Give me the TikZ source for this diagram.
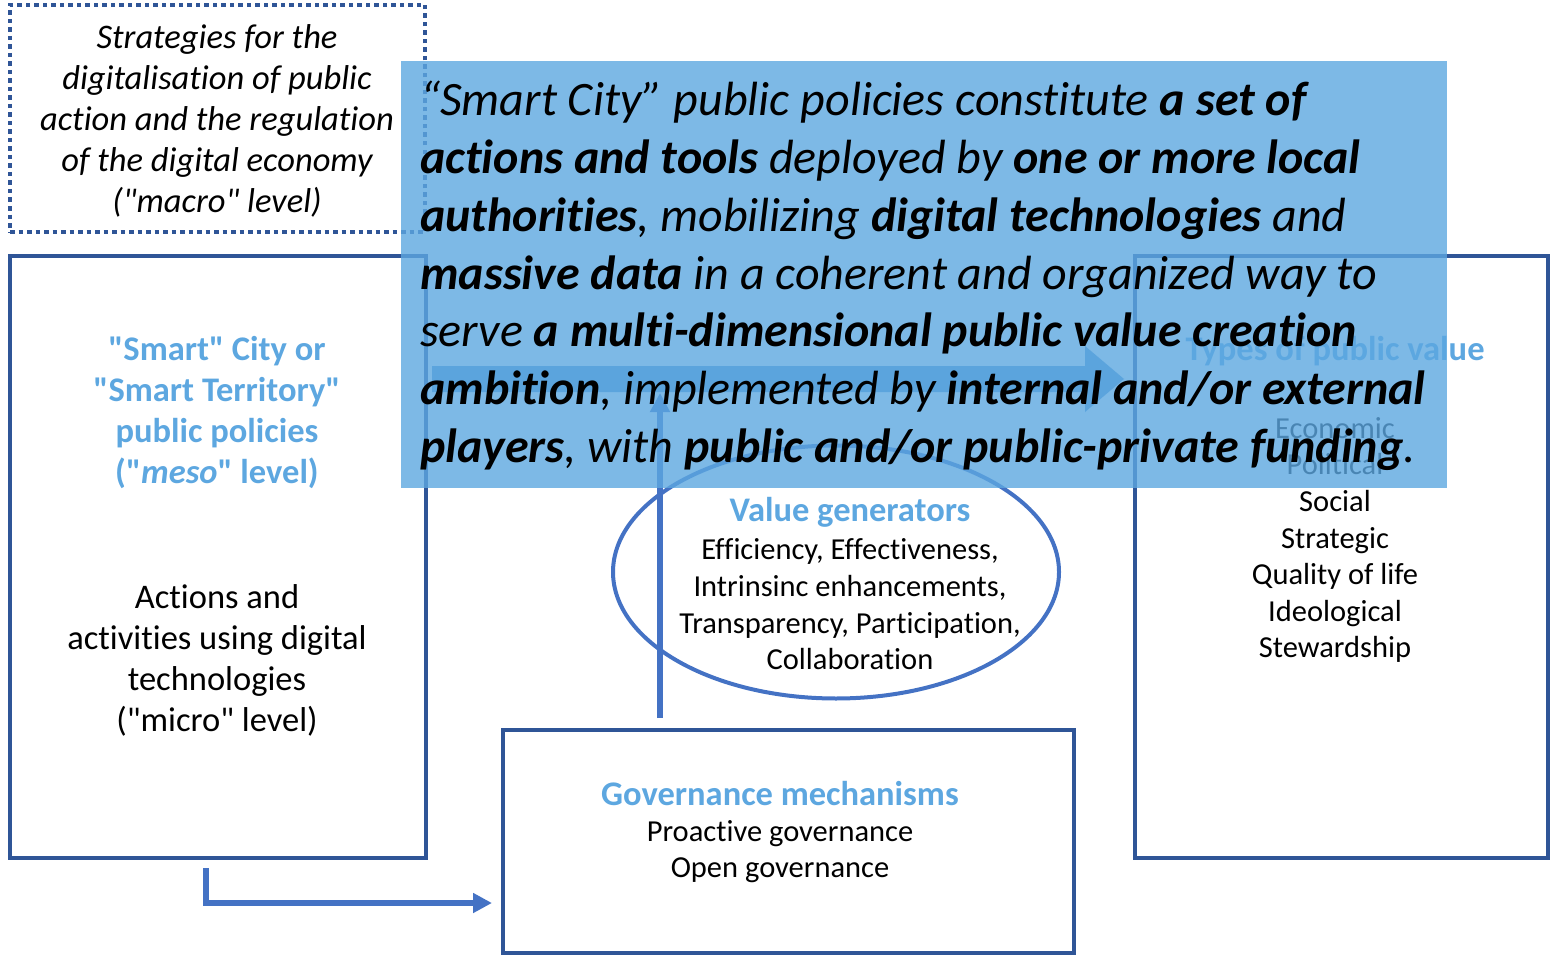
\documentclass[tikz,border=0pt]{standalone}
\usepackage{fontspec}
\setmainfont{Carlito}[Ligatures={TeXOff,NoCommon}]
\usetikzlibrary{arrows.meta,shapes.geometric}
\definecolor{dkblue}{RGB}{47,85,151}
\definecolor{lnblue}{RGB}{68,114,196}
\definecolor{hdblue}{RGB}{93,167,224}
\definecolor{ovblue}{RGB}{92,167,224}
\definecolor{arblue}{RGB}{91,155,213}
\tikzset{
  box/.style={draw=dkblue, line width=4.5pt, inner sep=0pt},
  dotbox/.style={draw=dkblue, line width=4.5pt, dash pattern=on 4.5pt off 4pt, inner sep=0pt},
  heading/.style={align=center, text=hdblue, font=\fontsize{34.5}{41}\selectfont\bfseries},
  body/.style={align=center, font=\fontsize{30.5}{36.6}\selectfont},
  bigbody/.style={align=center, font=\fontsize{34.5}{41}\selectfont},
  conn/.style={draw=lnblue, line width=6pt, -{Triangle[length=19pt,width=19pt]}},
  ovline/.style={anchor=base west, inner sep=0pt, font=\fontsize{48}{57.7}\selectfont\itshape},
}
\begin{document}
\begin{tikzpicture}[x=1pt,y=-1pt]
\useasboundingbox (0,0) rectangle (1550,955);
% boxes
\node[dotbox, minimum width=415pt, minimum height=227pt] (macrobox) at (217.5,118.5) {};
\node[box, minimum width=416pt, minimum height=602pt] (left) at (218,557) {};
\node[box, minimum width=413pt, minimum height=602pt] (right) at (1341.5,557) {};
\node[box, minimum width=571pt, minimum height=223pt] (gov) at (788.5,841.5) {};
\node[ellipse, draw=lnblue, line width=4pt, minimum width=446pt, minimum height=253pt] (vg) at (836,572) {};
% texts
\node[bigbody, font=\fontsize{34.5}{41}\selectfont\itshape] (macro) at (217,121) {Strategies for the\\digitalisation of public\\action and the regulation\\of the digital economy\\("macro" level)};
\node[heading] (meso) at (217,413) {"Smart" City or\\"Smart Territory"\\public policies\\("\textit{meso}" level)};
\node[bigbody] (micro) at (217,660) {Actions and\\activities using digital\\technologies\\("micro" level)};
\node[heading] (types) at (1335,351) {Types of public value};
\node[body] (typelist) at (1335,540) {Economic\\Political\\Social\\Strategic\\Quality of life\\Ideological\\Stewardship};
\node[heading] (vgh) at (850,512) {Value generators};
\node[body] (vgl) at (850,604.5) {Efficiency, Effectiveness,\\Intrinsinc enhancements,\\Transparency, Participation,\\Collaboration};
\node[heading] (govh) at (780,794) {Governance mechanisms};
\node[body] (govl) at (780,851.5) {Proactive governance\\Open governance};
% connectors
\coordinate (vstart) at (660,718);
\coordinate (vend) at (660,393);
\draw[conn] (vstart) -- (vend);
\coordinate (bstart) at (206,868);
\coordinate (bend) at (492,903);
\draw[conn] (bstart) |- (bend);
% big arrow
\fill[arblue] (432,366) -- (1085,366) -- (1085,346) -- (1124,379) -- (1085,412) -- (1085,392) -- (432,392) -- cycle;
% overlay
\node[fill=ovblue, fill opacity=0.8, text opacity=1, inner sep=0pt, minimum width=1046pt, minimum height=427pt] (ov) at (924,274.5) {};
\node[ovline] (ov1) at (420,116) {“Smart City” public policies constitute \textbf{a set of}};
\node[ovline] (ov2) at (420,173.7) {\textbf{actions and tools} deployed by \textbf{one or more local}};
\node[ovline] (ov3) at (420,231.4) {\textbf{authorities}, mobilizing \textbf{digital technologies} and};
\node[ovline] (ov4) at (420,289.1) {\textbf{massive data} in a coherent and organized way to};
\node[ovline] (ov5) at (420,346.8) {serve \textbf{a multi-dimensional public value creation}};
\node[ovline] (ov6) at (420,404.5) {\textbf{ambition}, implemented by \textbf{internal and/or external}};
\node[ovline] (ov7) at (420,462.2) {\textbf{players}, with \textbf{public and/or public-private funding}.};
\end{tikzpicture}
\end{document}
